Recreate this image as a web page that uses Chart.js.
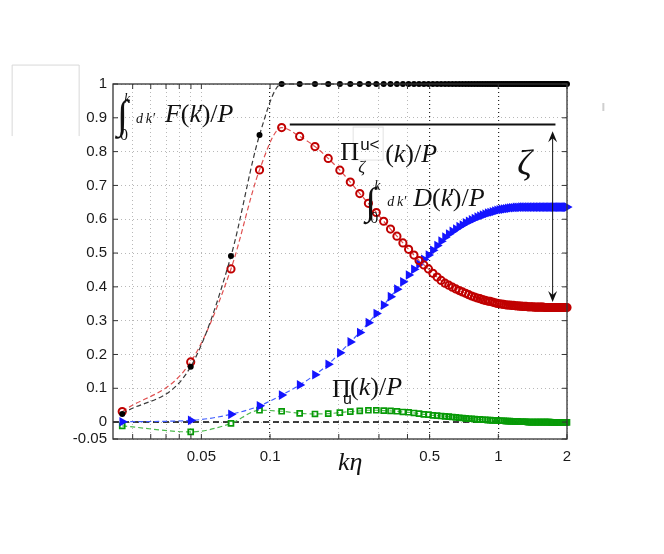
<!DOCTYPE html>
<html><head><meta charset="utf-8">
<script src="https://cdn.jsdelivr.net/npm/chart.js@4.4.1/dist/chart.umd.min.js"></script>
<style>html,body{margin:0;padding:0;background:#fff;}#wrap{width:664px;height:554px;}</style>
</head><body><div id="wrap"><canvas id="c" width="664" height="554"></canvas></div>
<script>
// ---- data ----
const kValues = [0.0225,0.0449,0.0674,0.0899,0.1124,0.1348,0.1573,0.1798,0.2022,0.2247,
0.2472,0.2697,0.2921,0.3146,0.3371,0.3596,0.3820,0.4045,0.4270,0.4494,
0.4719,0.4944,0.5169,0.5393,0.5618,0.5843,0.6067,0.6292,0.6517,0.6742,
0.6966,0.7191,0.7416,0.7640,0.7865,0.8090,0.8315,0.8539,0.8764,0.8989,
0.9213,0.9438,0.9663,0.9888,1.0112,1.0337,1.0562,1.0787,1.1011,1.1236,
1.1461,1.1685,1.1910,1.2135,1.2360,1.2584,1.2809,1.3034,1.3258,1.3483,
1.3708,1.3933,1.4157,1.4382,1.4607,1.4831,1.5056,1.5281,1.5506,1.5730,
1.5955,1.6180,1.6404,1.6629,1.6854,1.7079,1.7303,1.7528,1.7753,1.7978,
1.8202,1.8427,1.8652,1.8876,1.9101,1.9326,1.9551,1.9775,2.0000];
const cumF = [0.024,0.164,0.491,0.849,1,1,1,1,1,1,
1,1,1,1,1,1,1,1,1,1, 1,1,1,1,1,1,1,1,1,1, 1,1,1,1,1,1,1,1,1,1,
1,1,1,1,1,1,1,1,1,1, 1,1,1,1,1,1,1,1,1,1, 1,1,1,1,1,1,1,1,1,1,
1,1,1,1,1,1,1,1,1,1, 1,1,1,1,1,1,1,1,1];
const piZetaU = [0.031,0.178,0.453,0.746,0.871,0.845,0.815,0.780,0.745,0.710,
0.676,0.647,0.620,0.594,0.571,0.550,0.530,0.511,0.494,0.478,
0.465,0.453,0.440,0.429,0.419,0.411,0.405,0.399,0.394,0.389,
0.385,0.381,0.377,0.373,0.370,0.367,0.365,0.362,0.360,0.358,
0.357,0.355,0.353,0.351,0.350,0.349,0.348,0.347,0.346,0.346,
0.345,0.345,0.344,0.344,0.343,0.343,0.342,0.342,0.342,0.341,
0.341,0.341,0.341,0.340,0.340,0.340,0.340,0.340,0.340,0.340,
0.339,0.339,0.339,0.339,0.339,0.339,0.339,0.339,0.339,0.339,
0.339,0.339,0.339,0.339,0.339,0.339,0.339,0.339,0.339];
const cumD = [0.001,0.005,0.023,0.048,0.080,0.110,0.140,0.171,0.205,0.237,
0.265,0.294,0.321,0.346,0.371,0.393,0.415,0.435,0.452,0.467,
0.481,0.494,0.508,0.522,0.535,0.547,0.556,0.564,0.571,0.578,
0.583,0.589,0.594,0.598,0.602,0.606,0.609,0.612,0.615,0.618,
0.620,0.622,0.624,0.626,0.628,0.629,0.630,0.631,0.632,0.633,
0.634,0.634,0.635,0.635,0.635,0.636,0.636,0.636,0.636,0.636,
0.636,0.636,0.636,0.636,0.636,0.636,0.636,0.636,0.636,0.636,
0.636,0.636,0.636,0.636,0.636,0.636,0.636,0.636,0.636,0.636,
0.636,0.636,0.636,0.636,0.636,0.636,0.636,0.636,0.636];
const piU = [-0.011,-0.029,-0.004,0.035,0.032,0.026,0.024,0.025,0.028,0.031,
0.033,0.035,0.035,0.034,0.033,0.032,0.030,0.029,0.027,0.025,
0.023,0.022,0.020,0.019,0.018,0.017,0.016,0.015,0.014,0.013,
0.012,0.011,0.010,0.010,0.009,0.008,0.008,0.007,0.007,0.006,
0.006,0.005,0.005,0.005,0.004,0.004,0.004,0.003,0.003,0.003,
0.002,0.002,0.002,0.002,0.001,0.001,0.001,0.001,0.001,0.000,
0.000,0.000,0.000,0.000,0.000,0.000,0.000,0.000,0.000,0.000,
0.000,0.000,0.000,0.000,0.000,-0.001,-0.001,-0.001,-0.001,-0.001,
-0.001,-0.001,-0.001,-0.001,-0.001,-0.001,-0.001,-0.001,-0.001];
const xGridValues = [0.025,0.03,0.035,0.04,0.045,0.05,0.1,0.2,0.3,0.4,0.5,1,2];
const xDarkGrid = [0.1,0.5,1];
const xLabelValues = [0.05,0.1,0.5,1,2];
const xLabelTexts = ['0.05','0.1','0.5','1','2'];
const yTickValues = [-0.05,0,0.1,0.2,0.3,0.4,0.5,0.6,0.7,0.8,0.9,1];
const yTickLabels = ['-0.05','0','0.1','0.2','0.3','0.4','0.5','0.6','0.7','0.8','0.9','1'];
const zeroLineK = [0.0205,2], zeroLineY = [0,0];
const zetaTopK = [0.122,1.78], zetaTopY = [0.88,0.88];
const zetaArrowK = 1.73, zetaArrowY = [0.86,0.355];

// ---- chart ----
const pts = ys => kValues.map((k,i)=>({x:k,y:ys[i]}));
const pair = (ks,ys) => ks.map((k,i)=>({x:k,y:ys[i]}));
const SERIF = '"Liberation Serif"';
const IT = s => 'italic '+s+'px '+SERIF, RM = s => s+'px '+SERIF;

function run(ctx,x,y,segs){
  for(const [t,f,dx,dy] of segs){
    x += (dx||0);
    ctx.font=f; ctx.fillText(t,x,y+(dy||0)); x += ctx.measureText(t).width;
  }
}
const decor = {
  id:'decor',
  afterDatasetsDraw(chart){
    const {ctx, chartArea:a, scales:{x,y}} = chart;
    ctx.save();
    ctx.strokeStyle='#333'; ctx.lineWidth=1.3; ctx.setLineDash([]);
    ctx.strokeRect(a.left,a.top,a.right-a.left,a.bottom-a.top);
    ctx.lineWidth=1;
    ctx.beginPath();
    for(const v of yTickValues){const p=y.getPixelForValue(v);
      ctx.moveTo(a.left,p);ctx.lineTo(a.left+5,p);ctx.moveTo(a.right,p);ctx.lineTo(a.right-5,p);}
    for(const v of xGridValues){const p=x.getPixelForValue(v);
      ctx.moveTo(p,a.bottom);ctx.lineTo(p,a.bottom-5);ctx.moveTo(p,a.top);ctx.lineTo(p,a.top+5);}
    ctx.stroke();
    // zeta arrow
    const ax=x.getPixelForValue(zetaArrowK), y1=y.getPixelForValue(zetaArrowY[0]), y2=y.getPixelForValue(zetaArrowY[1]);
    ctx.strokeStyle='#111'; ctx.fillStyle='#111'; ctx.lineWidth=1;
    ctx.beginPath();ctx.moveTo(ax,y1+3);ctx.lineTo(ax,y2-3);ctx.stroke();
    ctx.beginPath();ctx.moveTo(ax,y1);ctx.lineTo(ax-4.5,y1+11);ctx.lineTo(ax,y1+7);ctx.lineTo(ax+4.5,y1+11);ctx.closePath();ctx.fill();
    ctx.beginPath();ctx.moveTo(ax,y2);ctx.lineTo(ax-4.5,y2-11);ctx.lineTo(ax,y2-7);ctx.lineTo(ax+4.5,y2-11);ctx.closePath();ctx.fill();
    ctx.restore();
  },
  afterDraw(chart){
    const {ctx, scales:{x,y}} = chart;
    const P=(k,v)=>[x.getPixelForValue(k),y.getPixelForValue(v)];
    ctx.save();
    // faint boxes
    ctx.strokeStyle='#d8d8d8'; ctx.lineWidth=1;
    let [bx1,by1]=P(0.00741,1.056),[bx2,by2]=P(0.01457,0.846);
    ctx.beginPath();ctx.moveTo(bx1,by2);ctx.lineTo(bx1,by1);ctx.lineTo(bx2,by1);ctx.lineTo(bx2,by2);ctx.stroke();
    let [mx,my]=P(2.886,0.932);
    ctx.strokeStyle='#cfcfcf';ctx.lineWidth=2;ctx.beginPath();ctx.moveTo(mx,my-4);ctx.lineTo(mx,my+4);ctx.stroke();
    ctx.fillStyle='#111'; ctx.textAlign='left'; ctx.textBaseline='alphabetic';
    // label A : integral of F
    let [ax,ay]=P(0.02133,0.8935);
    ctx.font=RM(40); ctx.fillText('\u222B',ax,ay+8);
    ctx.font=IT(14); ctx.fillText('k',ax+7,ay-17);
    ctx.font=RM(16); ctx.fillText('0',ax+3,ay+20);
    ctx.font=IT(14); ctx.fillText('d\u2009k\u2032',ax+19,ay+3);
    run(ctx,ax+48,ay+2,[['F',IT(26)],['(',RM(26)],['k',IT(26)],['\u2032',RM(26),-3],[')',RM(26),-2],['/',RM(26)],['P',IT(26)]]);
    // label B : Pi_zeta^{u<}
    let [bxx,byy]=P(0.2028,0.7751);
    ctx.strokeStyle='#e2e2e2'; ctx.lineWidth=1; ctx.strokeRect(bxx+13,byy-33,30,33);
    ctx.font=RM(26); ctx.fillText('\u03A0',bxx,byy);
    ctx.font='17px "Liberation Sans"'; ctx.fillText('u<',bxx+20,byy-10);
    ctx.font=IT(17); ctx.fillText('\u03B6',bxx+18,byy+12);
    run(ctx,bxx+45,byy+2,[['(',RM(26)],['k',IT(26)],[')',RM(26)],['/',RM(26)],['P',IT(26)]]);
    // label C : integral of D
    let [cx,cy]=P(0.2611,0.639);
    ctx.font=RM(38); ctx.fillText('\u222B',cx,cy+8);
    ctx.font=IT(14); ctx.fillText('k',cx+9,cy-16);
    ctx.font=RM(16); ctx.fillText('0',cx+5,cy+17);
    ctx.font=IT(14); ctx.fillText('d\u2009k\u2032',cx+22,cy);
    run(ctx,cx+48,cy,[['D',IT(26)],['(',RM(26)],['k',IT(26)],['\u2032',RM(26),-3],[')',RM(26),-2],['/',RM(26)],['P',IT(26)]]);
    // label D : Pi_u
    let [dx,dy]=P(0.1870,0.0799);
    ctx.font=RM(26); ctx.fillText('\u03A0',dx,dy+2);
    ctx.font='16px "Liberation Sans"'; ctx.fillText('u',dx+11,dy+9);
    run(ctx,dx+18,dy,[['(',RM(26)],['k',IT(26)],[')',RM(26)],['/',RM(26)],['P',IT(26)]]);
    // zeta
    let [zx,zy]=P(1.2115,0.7308);
    ctx.font=IT(36); ctx.fillText('\u03B6',zx,zy);
    // x axis title
    let [tx,ty]=P(0.1985,-0.142);
    run(ctx,tx,ty,[['k',IT(26)],['\u03B7',IT(26)]]);
    ctx.restore();
  }
};

const common = {showLine:true, borderWidth:1.2, borderDash:[5,3], cubicInterpolationMode:'monotone', clip:false};
new Chart(document.getElementById('c'), {
  type:'scatter',
  data:{datasets:[
    {...common, label:'F', data:pts(cumF), borderColor:'#3a3a3a', pointStyle:'circle', pointRadius:3,
      pointBackgroundColor:'#000', pointBorderColor:'#000', pointBorderWidth:0},
    {...common, label:'PiZetaU', data:pts(piZetaU), borderColor:'#e05050', pointStyle:'circle', pointRadius:3.6,
      pointBackgroundColor:'rgba(255,255,255,0)', pointBorderColor:'#c00000', pointBorderWidth:2},
    {...common, label:'D', data:pts(cumD), borderColor:'#3f5cff', pointStyle:'triangle', pointRotation:90, pointRadius:5.6,
      pointBackgroundColor:'#1414ff', pointBorderColor:'#1414ff', pointBorderWidth:0},
    {...common, label:'PiU', data:pts(piU), borderColor:'#4cb84c', pointStyle:'rect', pointRadius:3.5,
      pointBackgroundColor:'rgba(255,255,255,0)', pointBorderColor:'#079a07', pointBorderWidth:1.7},
    {showLine:true, label:'zero', data:pair(zeroLineK,zeroLineY), borderColor:'#000', borderWidth:1.5, borderDash:[6,4], pointRadius:0, clip:false},
    {showLine:true, label:'top', data:pair(zetaTopK,zetaTopY), borderColor:'#111', borderWidth:2, pointRadius:0, clip:false}
  ]},
  options:{
    responsive:false, animation:false, devicePixelRatio:1,
    layout:{padding:{left:0,right:97,top:84,bottom:0}},
    plugins:{legend:{display:false}, tooltip:{enabled:false}},
    scales:{
      x:{type:'logarithmic', min:0.0205, max:2,
        afterBuildTicks:s=>{s.ticks=xGridValues.map(v=>({value:v}));},
        afterFit:s=>{s.height=115;},
        grid:{drawTicks:false, color:c=>xDarkGrid.includes(c.tick&&c.tick.value)?'#222':'#b8b8b8', lineWidth:c=>xDarkGrid.includes(c.tick&&c.tick.value)?1.2:1},
        border:{display:false, dash:[1,3]},
        ticks:{autoSkip:false, maxRotation:0, minRotation:0, padding:9, color:'#1a1a1a', font:{family:'"Liberation Sans"', size:15},
          callback:v=>{const i=xLabelValues.indexOf(v);return i>=0?xLabelTexts[i]:'';}}},
      y:{type:'linear', min:-0.05, max:1,
        afterBuildTicks:s=>{s.ticks=yTickValues.map(v=>({value:v}));},
        afterFit:s=>{s.width=113;},
        grid:{drawTicks:false, color:'#b8b8b8', lineWidth:1},
        border:{display:false, dash:[1,3]},
        ticks:{padding:6, color:'#1a1a1a', font:{family:'"Liberation Sans"', size:15},
          callback:(v,i)=>yTickLabels[i]}}
    }
  },
  plugins:[decor]
});
</script></body></html>
